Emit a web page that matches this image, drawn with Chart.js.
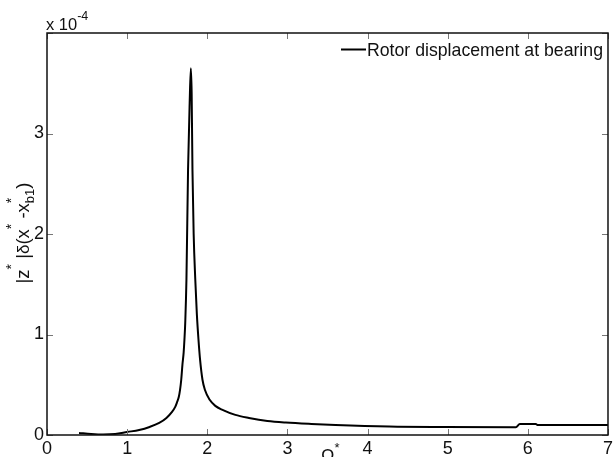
<!DOCTYPE html>
<html>
<head>
<meta charset="utf-8">
<script src="https://cdn.jsdelivr.net/npm/chart.js@4"></script>
<style>
  html, body { margin: 0; padding: 0; background: #fff; }
</style>
</head>
<body>
<canvas id="chart" width="616" height="457"></canvas>
<script>
// rotor displacement at bearing vs. omega*, values in units of 1e-4
const omega = [0.40, 0.55, 0.70, 0.85, 1.00, 1.15, 1.28, 1.40, 1.49, 1.56, 1.60, 1.62, 1.645, 1.66,
    1.675, 1.69, 1.705, 1.715, 1.725, 1.74, 1.76, 1.78, 1.795, 1.805, 1.815, 1.83, 1.85, 1.87,
    1.89, 1.91, 1.94, 1.97, 2.03, 2.10, 2.19, 2.35, 2.52, 2.75, 2.98, 3.30, 3.60, 4.27, 4.97,
    5.85, 5.90, 6.10, 6.12, 7.00];
const displacement = [0.02, 0.01, 0.005, 0.01, 0.03, 0.05, 0.08, 0.12, 0.17, 0.23, 0.28, 0.32, 0.38, 0.45,
    0.55, 0.70, 0.82, 0.95, 1.12, 1.55, 2.64, 3.30, 3.65, 3.40, 2.64, 2.00, 1.55, 1.20,
    0.95, 0.75, 0.55, 0.45, 0.35, 0.29, 0.25, 0.20, 0.17, 0.14, 0.124, 0.11, 0.10, 0.085, 0.08,
    0.077, 0.11, 0.11, 0.10, 0.10];
const xTickLabels = ['0', '1', '2', '3', '4', '5', '6', '7'];
const yTickLabels = ['0', '1', '2', '3'];
const legendLabel = 'Rotor displacement at bearing';

const FONT = '"Liberation Sans", Arial, sans-serif';
const points = omega.map((x, i) => ({ x: x, y: displacement[i] }));

// draws a run of pieces [text, size, dy, advance]
function drawPieces(ctx, pieces, x0, y0) {
    let x = x0;
    pieces.forEach(p => {
        ctx.font = p[1] + 'px ' + FONT;
        ctx.fillText(p[0], x, y0 + p[2]);
        if (p[3] !== false) x += ctx.measureText(p[0]).width;
    });
    return x - x0;
}

const extras = {
    id: 'extras',
    afterDraw(chart) {
        const ctx = chart.ctx;
        const a = chart.chartArea;
        const xs = chart.scales.x, ys = chart.scales.y;
        ctx.save();

        // inward ticks, matlab style
        ctx.strokeStyle = '#777';
        ctx.lineWidth = 1;
        ctx.beginPath();
        xs.ticks.forEach(t => {
            const px = Math.round(xs.getPixelForValue(t.value)) + 0.5;
            ctx.moveTo(px, a.bottom); ctx.lineTo(px, a.bottom - 6);
            ctx.moveTo(px, a.top); ctx.lineTo(px, a.top + 6);
        });
        ys.ticks.forEach(t => {
            const py = Math.round(ys.getPixelForValue(t.value)) + 0.5;
            ctx.moveTo(a.left, py); ctx.lineTo(a.left + 6, py);
            ctx.moveTo(a.right, py); ctx.lineTo(a.right - 6, py);
        });
        ctx.stroke();

        // frame
        ctx.strokeStyle = '#111';
        ctx.lineWidth = 1.5;
        ctx.strokeRect(a.left, a.top, a.right - a.left, a.bottom - a.top);

        ctx.fillStyle = '#111';
        ctx.textBaseline = 'alphabetic';
        ctx.textAlign = 'left';

        // exponent label
        drawPieces(ctx, [['x 10', 16.5, 0], ['-4', 12.5, -10]], 46, 30);

        // legend
        ctx.strokeStyle = '#000';
        ctx.lineWidth = 2;
        ctx.beginPath();
        ctx.moveTo(341, 49.5); ctx.lineTo(366, 49.5);
        ctx.stroke();
        ctx.font = '17.7px ' + FONT;
        ctx.fillText(legendLabel, 367, 56);

        // x title
        drawPieces(ctx, [['\u03A9', 18, 0], ['*', 13, -10]], 321, 462);

        // y title
        ctx.translate(29, 233);
        ctx.rotate(-Math.PI / 2);
        const yTitle = [
            ['|z', 18.5, 0], ['*', 14, -13], [' |', 18.5, 0], ['\u03B4', 17, 0], ['(x', 18.5, 0],
            ['*', 14, -13], [' -x', 18.5, 0], ['*', 14, -13, false], ['b1', 13, 5], [')', 18.5, 0]
        ];
        ctx.fillStyle = 'rgba(0,0,0,0)';
        const w = drawPieces(ctx, yTitle, 0, 0);
        ctx.fillStyle = '#111';
        drawPieces(ctx, yTitle, -w / 2, 0);
        ctx.restore();
    }
};

new Chart(document.getElementById('chart'), {
    type: 'line',
    data: {
        datasets: [{
            label: legendLabel,
            data: points,
            borderColor: '#000',
            borderWidth: 2,
            pointRadius: 0,
            cubicInterpolationMode: 'monotone',
            fill: false
        }]
    },
    options: {
        responsive: false,
        animation: false,
        layout: { padding: { top: 33, right: 6, left: 0, bottom: 0 } },
        plugins: {
            legend: { display: false },
            tooltip: { enabled: false }
        },
        scales: {
            x: {
                type: 'linear',
                min: 0,
                max: 7,
                afterFit: s => { s.height = 22; },
                grid: { display: false, drawTicks: false },
                border: { display: false },
                ticks: {
                    stepSize: 1,
                    padding: 3,
                    color: '#111',
                    font: { family: FONT, size: 18 },
                    callback: v => xTickLabels[v] ?? ''
                }
            },
            y: {
                min: 0,
                max: 4,
                afterFit: s => { s.width = 47; },
                grid: { display: false, drawTicks: false },
                border: { display: false },
                ticks: {
                    stepSize: 1,
                    padding: 3,
                    color: '#111',
                    font: { family: FONT, size: 18 },
                    callback: v => yTickLabels[v] ?? ''
                }
            }
        }
    },
    plugins: [extras]
});
</script>
</body>
</html>
